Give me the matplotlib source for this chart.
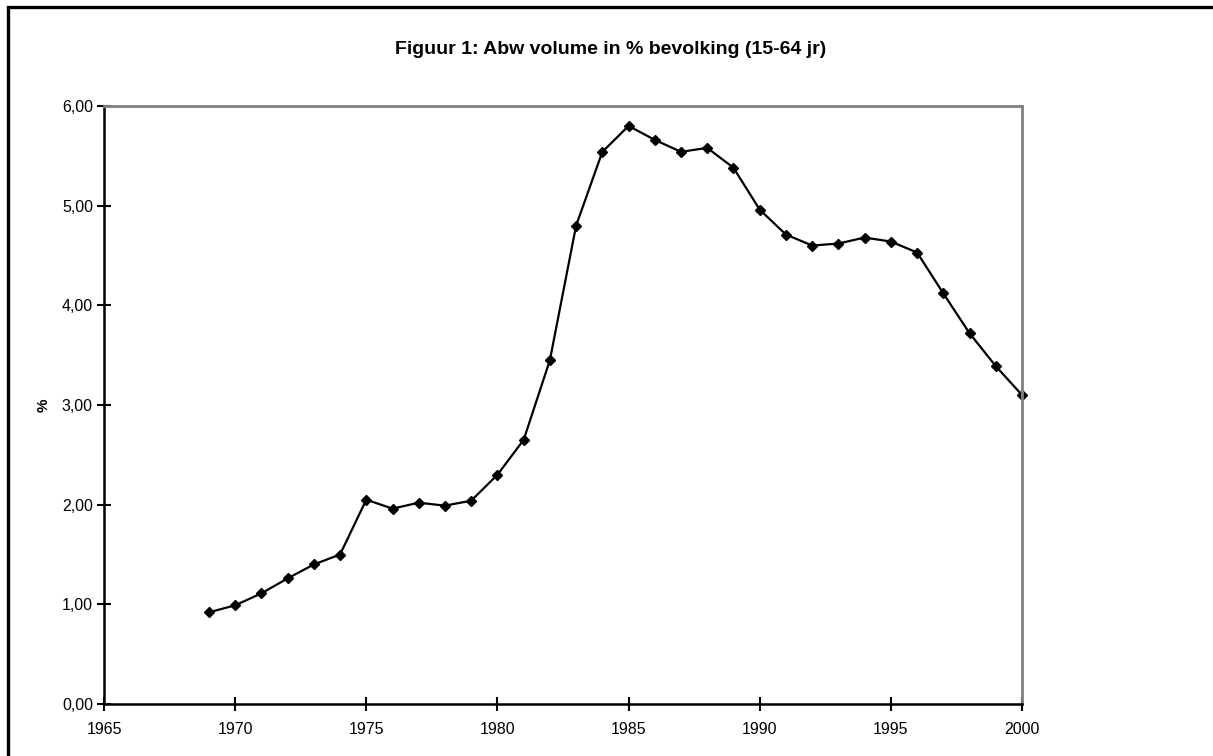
import matplotlib
matplotlib.use("Agg")
from matplotlib import pyplot as plt
from matplotlib.patches import Rectangle

plt.rcParams['font.family'] = ['Liberation Sans', 'DejaVu Sans']

years = list(range(1969, 2001))
abw = [0.92, 0.99, 1.11, 1.26, 1.40, 1.50, 2.05, 1.96, 2.02, 1.99,
       2.04, 2.30, 2.65, 3.45, 4.80, 5.54, 5.80, 5.66, 5.54, 5.58,
       5.38, 4.96, 4.71, 4.60, 4.62, 4.68, 4.64, 4.53, 4.12, 3.72,
       3.39, 3.10]
xticks = [1965, 1970, 1975, 1980, 1985, 1990, 1995, 2000]
yticks = [0, 1, 2, 3, 4, 5, 6]

W, H = 1213, 756
fig = plt.figure(figsize=(W / 100, H / 100), dpi=100)

# outer frame (right and bottom edges fall off the picture)
fig.patches.append(Rectangle((8 / W, -0.05), 1.2, 1 - 7.5 / H + 0.05,
                             transform=fig.transFigure, fill=False,
                             edgecolor='black', linewidth=2.4))

ax = fig.add_axes([104 / W, 1 - 704 / H, (1022 - 104) / W, (704 - 106) / H])
ax.plot(years, abw, color='black', linewidth=1.6, marker='D', markersize=4.6,
        markeredgewidth=1, markerfacecolor='black', markeredgecolor='black',
        clip_on=False)

ax.set_xlim(1965, 2000)
ax.set_ylim(0, 6)
ax.set_xticks(xticks)
ax.set_yticks(yticks)
ax.set_yticklabels([f"{v:.2f}".replace('.', ',') for v in yticks])
ax.tick_params(direction='inout', length=10, width=1.5, labelsize=11.5, color='black')
ax.tick_params(axis='x', pad=8)
ax.tick_params(axis='y', pad=3)

for s in ['left', 'bottom']:
    ax.spines[s].set_color('black')
    ax.spines[s].set_linewidth(1.8)
for s in ['top', 'right']:
    ax.spines[s].set_color('#808080')
    ax.spines[s].set_linewidth(2)

ax.set_ylabel('%', fontsize=11, fontweight='bold', labelpad=8)
fig.text(611 / W, 1 - 50 / H, 'Figuur 1: Abw volume in % bevolking (15-64 jr)',
         ha='center', va='center', fontsize=14, fontweight='bold')

fig.savefig('out.png', dpi=100)
